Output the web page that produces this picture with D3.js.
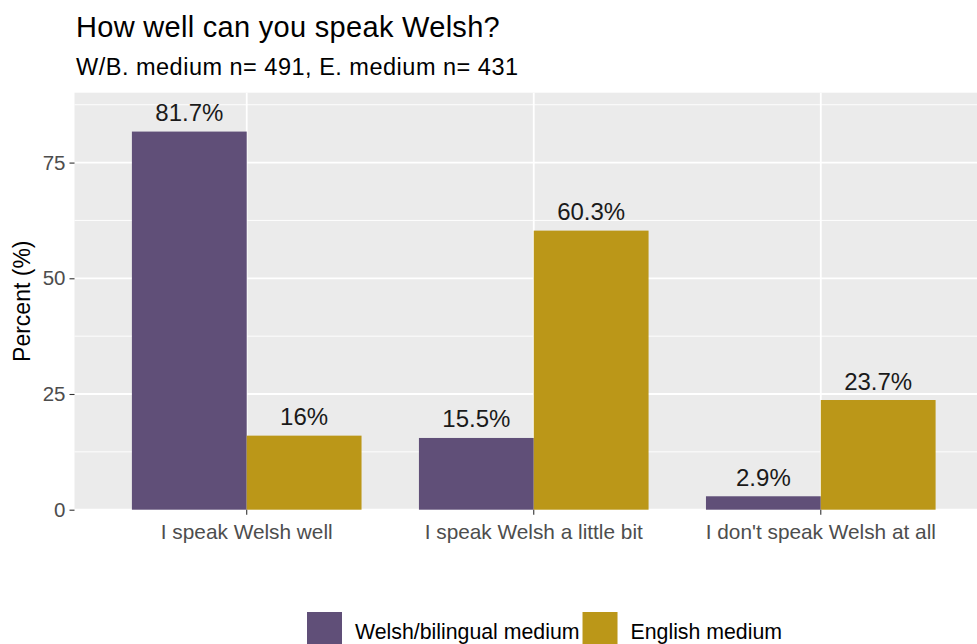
<!DOCTYPE html>
<html lang="en">
<head>
    <meta charset="UTF-8">
    <title>How well can you speak Welsh?</title>
    <script src="https://cdn.jsdelivr.net/npm/d3@7"></script>
    <style>
        body { margin: 0; background: #fff; }
        svg { display: block; font-family: "Liberation Sans", Arial, sans-serif; }
    </style>
</head>
<body>
    <svg id="chart"></svg>

    <script>
        // data
        const categories = ["I speak Welsh well", "I speak Welsh a little bit", "I don't speak Welsh at all"]
        const series = ["Welsh/bilingual medium", "English medium"]
        const welshMedium = [81.7, 15.5, 2.9]
        const englishMedium = [16, 60.3, 23.7]
        const labelsWelsh = ["81.7%", "15.5%", "2.9%"]
        const labelsEnglish = ["16%", "60.3%", "23.7%"]
        const yTicks = [0, 25, 50, 75]
        const yMinor = [12.5, 37.5, 62.5, 87.5]
        const colors = ["#604F78", "#BB9718"]

        const W = 977, H = 644
        const panel = { left: 74.5, right: 993, top: 92.7, bottom: 509.7 }

        const rows = []
        categories.forEach((c, i) => {
            rows.push({ cat: c, s: series[0], v: welshMedium[i], label: labelsWelsh[i] })
            rows.push({ cat: c, s: series[1], v: englishMedium[i], label: labelsEnglish[i] })
        })

        const svg = d3.select('#chart')
            .attr('width', W)
            .attr('height', H)

        const x = d3.scaleBand()
            .domain(categories)
            .range([panel.left, panel.right])
            .paddingInner(0.2)
            .paddingOuter(0.2)

        const xs = d3.scaleBand()
            .domain(series)
            .range([0, x.bandwidth()])

        const y = d3.scaleLinear()
            .domain([0, 90.1])
            .range([panel.bottom, panel.top])

        const color = d3.scaleOrdinal().domain(series).range(colors)

        // panel background
        svg.append('rect')
            .attr('x', panel.left)
            .attr('y', panel.top)
            .attr('width', panel.right - panel.left)
            .attr('height', panel.bottom - panel.top)
            .attr('fill', '#EBEBEB')

        // grid lines
        svg.append('g').selectAll('line')
            .data(yMinor)
            .join('line')
            .attr('x1', panel.left).attr('x2', panel.right)
            .attr('y1', d => y(d)).attr('y2', d => y(d))
            .attr('stroke', '#fff').attr('stroke-width', 0.9)

        svg.append('g').selectAll('line')
            .data(yTicks)
            .join('line')
            .attr('x1', panel.left).attr('x2', panel.right)
            .attr('y1', d => y(d)).attr('y2', d => y(d))
            .attr('stroke', '#fff').attr('stroke-width', 1.8)

        svg.append('g').selectAll('line')
            .data(categories)
            .join('line')
            .attr('x1', d => x(d) + x.bandwidth() / 2).attr('x2', d => x(d) + x.bandwidth() / 2)
            .attr('y1', panel.top).attr('y2', panel.bottom)
            .attr('stroke', '#fff').attr('stroke-width', 1.8)

        // bars
        svg.append('g').selectAll('rect')
            .data(rows)
            .join('rect')
            .attr('x', d => x(d.cat) + xs(d.s))
            .attr('y', d => y(d.v))
            .attr('width', xs.bandwidth())
            .attr('height', d => y(0) - y(d.v))
            .attr('fill', d => color(d.s))

        // bar labels
        svg.append('g').selectAll('text')
            .data(rows)
            .join('text')
            .attr('x', d => x(d.cat) + xs(d.s) + xs.bandwidth() / 2)
            .attr('y', d => y(d.v) - 10.5)
            .attr('text-anchor', 'middle')
            .attr('fill', '#1a1a1a')
            .style('font-size', '24px')
            .text(d => d.label)

        // y axis
        const yAxis = svg.append('g')
            .attr('transform', `translate(${panel.left},0)`)
            .call(d3.axisLeft(y).tickValues(yTicks).tickSize(5).tickPadding(4))
        yAxis.select('.domain').remove()
        yAxis.selectAll('line').attr('stroke', '#333').attr('stroke-width', 1.1)
        yAxis.selectAll('text')
            .attr('fill', '#4D4D4D')
            .style('font-size', '20.5px')
            .style('font-family', '"Liberation Sans", Arial, sans-serif')

        // x axis
        const xAxis = svg.append('g')
            .attr('transform', `translate(0,${panel.bottom})`)
            .call(d3.axisBottom(x).tickSize(5).tickPadding(10))
        xAxis.select('.domain').remove()
        xAxis.selectAll('line').attr('stroke', '#333').attr('stroke-width', 1.1)
        xAxis.selectAll('text')
            .attr('fill', '#4D4D4D')
            .style('font-size', '20.8px')
            .style('font-family', '"Liberation Sans", Arial, sans-serif')

        // axis title
        svg.append('text')
            .attr('transform', `translate(30,${(panel.top + panel.bottom) / 2}) rotate(-90)`)
            .attr('text-anchor', 'middle')
            .attr('fill', '#000')
            .style('font-size', '23px')
            .text('Percent (%)')

        // titles
        svg.append('text')
            .attr('x', 76).attr('y', 37.3)
            .attr('fill', '#000')
            .style('font-size', '29px')
            .style('letter-spacing', '0.3px')
            .text('How well can you speak Welsh?')

        svg.append('text')
            .attr('x', 76).attr('y', 75)
            .attr('fill', '#000')
            .style('font-size', '23.5px')
            .style('letter-spacing', '0.5px')
            .text('W/B. medium n= 491, E. medium n= 431')

        // legend
        const legend = svg.append('g')
        let lx = 307
        series.forEach((s, i) => {
            legend.append('rect')
                .attr('x', lx).attr('y', 612)
                .attr('width', 35).attr('height', 35)
                .attr('fill', color(s))
            const t = legend.append('text')
                .attr('x', lx + 48).attr('y', 639)
                .attr('fill', '#000')
                .style('font-size', '21.3px')
                .text(s)
            lx = lx + 48 + t.node().getComputedTextLength() + 3
        })
    </script>
</body>
</html>
